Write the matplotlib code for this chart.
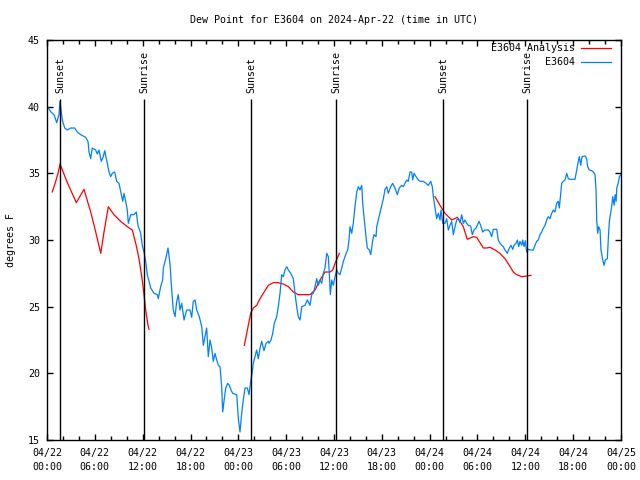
import matplotlib
matplotlib.use("Agg")
import matplotlib.pyplot as plt
from matplotlib.ticker import MultipleLocator

plt.rcParams['font.family'] = ['DejaVu Sans Mono']

title = "Dew Point for E3604 on 2024-Apr-22 (time in UTC)"
ylabel = "degrees F"

# hours since 2024-04-22 00:00 UTC
blue_hours = [0.04, 0.5, 0.88, 1.22, 1.5, 1.63, 1.92, 2.22, 2.55, 2.97, 3.47, 3.8, 4.23, 4.85, 5.14, 5.27,
              5.48, 5.68, 6.11, 6.31, 6.52, 6.81, 7.06, 7.24, 7.56, 7.78, 7.99, 8.19, 8.49, 8.74, 9.03,
              9.32, 9.5, 9.66, 9.87, 10.07, 10.2, 10.5, 10.91, 11.2, 11.41, 11.75, 11.95, 12.17, 12.38,
              12.58, 13.01, 13.42, 13.84, 13.96, 14.26, 14.51, 14.59, 14.89, 15.18, 15.43, 15.64, 15.84,
              16.06, 16.27, 16.47, 16.68, 16.9, 17.19, 17.52, 17.94, 18.15, 18.35, 18.57, 18.78, 19.1,
              19.41, 19.61, 19.82, 20.03, 20.23, 20.45, 20.66, 20.86, 21.07, 21.29, 21.49, 21.7, 21.91,
              22.04, 22.2, 22.42, 22.67, 22.87, 23.08, 23.29, 23.8, 24.0, 24.21, 24.42, 24.62, 24.84,
              25.13, 25.34, 25.55, 25.72, 25.88, 26.09, 26.3, 26.51, 26.72, 26.93, 27.22, 27.47, 27.76,
              27.85, 28.1, 28.31, 28.51, 28.81, 29.01, 29.23, 29.44, 29.64, 29.85, 30.07, 30.27, 30.57,
              30.9, 31.11, 31.32, 31.52, 31.74, 31.95, 32.36, 32.65, 32.99, 33.2, 33.4, 33.62, 33.83,
              34.03, 34.25, 34.46, 34.66, 34.87, 35.09, 35.29, 35.41, 35.54, 35.71, 35.91, 36.13, 36.34,
              36.54, 36.75, 36.97, 37.17, 37.38, 37.59, 37.72, 37.88, 38.01, 38.22, 38.42, 38.63, 38.85,
              39.05, 39.26, 39.48, 39.6, 39.76, 40.01, 40.18, 40.43, 40.61, 40.86, 41.02, 41.27, 41.36,
              41.56, 41.77, 41.99, 42.19, 42.4, 42.61, 42.81, 43.11, 43.36, 43.65, 43.94, 44.19, 44.49,
              44.69, 44.91, 45.12, 45.32, 45.53, 45.75, 45.87, 46.04, 46.29, 46.58, 46.79, 47.2, 47.54,
              47.83, 48.13, 48.33, 48.46, 48.67, 48.88, 49.08, 49.3, 49.42, 49.64, 49.92, 50.14, 50.34,
              50.55, 50.76, 50.97, 51.18, 51.39, 51.59, 51.81, 52.02, 52.22, 52.43, 52.64, 52.84, 53.14,
              53.35, 53.56, 53.81, 53.98, 54.19, 54.4, 54.65, 54.94, 55.36, 55.57, 55.78, 55.98, 56.41,
              56.61, 56.82, 57.04, 57.24, 57.45, 57.74, 57.99, 58.2, 58.42, 58.58, 58.83, 59.0, 59.17,
              59.33, 59.55, 59.67, 59.84, 60.0, 60.17, 60.37, 60.67, 61.0, 61.21, 61.42, 61.63, 61.84,
              62.05, 62.26, 62.47, 62.68, 62.88, 63.09, 63.31, 63.51, 63.72, 63.93, 64.13, 64.26, 64.44,
              64.56, 64.76, 64.98, 65.19, 65.39, 65.61, 66.23, 66.44, 66.64, 66.77, 66.95, 67.11, 67.52,
              67.7, 67.82, 68.02, 68.33, 68.53, 68.74, 68.87, 68.95, 69.08, 69.2, 69.37, 69.49, 69.71,
              69.87, 70.04, 70.29, 70.42, 70.54, 70.72, 70.85, 70.97, 71.14, 71.26, 71.39, 71.47, 71.64,
              71.8, 71.98]
blue_vals = [40.0, 39.6, 39.4, 38.8, 39.4, 40.4, 39.0, 38.4, 38.25, 38.4, 38.4, 38.1, 37.9, 37.7, 37.4, 36.6,
             36.1, 36.9, 36.75, 36.45, 36.75, 35.9, 36.25, 36.7, 35.75, 35.1, 34.75, 35.0, 35.1, 34.4, 34.25,
             33.4, 32.9, 33.5, 32.9, 32.25, 31.25, 31.9, 31.9, 32.1, 31.1, 30.5, 29.6, 29.1, 28.4,
             27.4, 26.4, 26.0, 25.9, 25.6, 26.5, 27.0, 27.9, 28.6, 29.4, 28.2, 26.25, 24.75,
             24.25, 25.4, 25.9, 24.75, 25.25, 24.0, 24.75, 24.75, 24.2, 25.4, 25.5, 24.75, 24.25,
             23.5, 22.1, 22.75, 23.4, 21.25, 22.5, 21.9, 20.9, 21.5, 21.0, 20.6, 20.5, 19.0,
             17.1, 17.9, 18.9, 19.25, 19.1, 18.75, 18.5, 18.4, 16.6, 15.6, 17.0, 18.0, 18.9,
             18.9, 18.4, 19.4, 20.0, 20.75, 21.25, 21.75, 21.1, 21.9, 22.4, 21.7, 22.25, 22.4,
             22.25, 22.5, 23.0, 23.75, 24.25, 25.0, 26.0, 27.4, 27.25, 27.75, 28.0, 27.75, 27.5,
             27.1, 26.0, 25.0, 24.25, 24.0, 25.0, 25.1, 25.5, 25.1, 25.9, 26.0, 26.5, 27.1,
             26.6, 27.0, 26.75, 27.5, 27.9, 29.0, 28.75, 27.5, 25.9, 27.0, 26.6, 27.25, 27.75,
             27.5, 27.4, 27.9, 28.4, 28.75, 29.1, 29.25, 30.0, 31.0, 30.5, 31.25, 32.5, 33.6,
             34.0, 33.75, 34.1, 32.75, 31.75, 30.25, 29.4, 29.25, 28.9, 30.0, 30.4, 30.25, 31.0,
             31.5, 32.0, 32.6, 33.1, 33.8, 34.0, 33.5, 34.0, 34.25, 33.9, 33.4, 33.9, 34.1,
             34.0, 34.25, 34.5, 34.4, 35.1, 35.1, 34.5, 35.0, 34.75, 34.5, 34.4, 34.4, 34.25,
             34.1, 34.4, 34.0, 33.25, 32.4, 31.6, 32.0, 31.5, 32.25, 31.25, 31.25, 31.6, 30.75,
             31.1, 31.4, 30.4, 31.0, 31.5, 31.6, 31.3, 31.9, 31.25, 31.5, 31.25, 31.1, 31.05,
             30.4, 30.75, 30.9, 31.1, 31.4, 31.1, 30.6, 30.75, 30.75, 30.6, 30.25, 30.8, 30.8,
             30.0, 29.75, 29.6, 29.5, 29.25, 29.0, 29.4, 29.6, 29.3, 29.6, 29.75, 30.0, 29.5,
             29.9, 29.6, 30.0, 29.5, 29.95, 29.1, 29.3, 29.25, 29.25, 29.6, 29.9, 30.0, 30.4,
             30.6, 30.9, 31.1, 31.5, 31.75, 31.6, 32.0, 32.25, 32.1, 32.75, 32.9, 32.4, 33.5,
             34.25, 34.4, 34.5, 35.0, 34.6, 34.55, 34.55, 35.25, 35.9, 36.25, 35.6, 36.25, 36.3,
             36.05, 35.5, 35.25, 35.2, 35.1, 34.9, 33.75, 31.5, 30.5, 31.0, 30.75, 29.25, 28.5,
             28.1, 28.5, 28.6, 30.25, 31.4, 32.1, 32.6, 33.25, 32.6, 33.4, 32.9, 33.9, 34.25,
             34.75, 34.9]

# analysis series, three separate segments
ana1_hours = [0.66, 1.09, 1.38, 1.63, 2.55, 3.68, 4.64, 5.48, 6.11, 6.74, 7.15, 7.69, 8.4, 9.24,
              10.07, 10.7, 11.13, 11.54, 11.95, 12.17, 12.38, 12.67, 12.8]
ana1_vals = [33.6, 34.4, 35.0, 35.7, 34.3, 32.8, 33.8, 32.1, 30.6, 29.0, 30.6, 32.5, 31.9, 31.4,
             31.0, 30.75, 29.75, 28.6, 27.0, 25.9, 24.75, 23.6, 23.3]
ana2_hours = [24.75, 25.55, 25.88, 26.3, 26.72, 27.13, 27.76, 28.39, 29.01, 29.64, 30.27, 30.9,
              31.52, 32.36, 32.99, 33.62, 34.25, 34.87, 35.5, 35.84, 36.13, 36.67]
ana2_vals = [22.1, 24.5, 24.9, 25.1, 25.6, 26.0, 26.6, 26.8, 26.8, 26.7, 26.5, 26.1,
             25.9, 25.9, 25.9, 26.25, 27.0, 27.6, 27.6, 27.75, 28.25, 29.0]
ana3_hours = [48.67, 49.3, 49.92, 50.34, 50.76, 51.47, 51.81, 52.22, 52.72, 53.47, 53.9, 54.73,
              55.15, 55.57, 56.2, 56.82, 57.45, 57.99, 58.49, 58.92, 59.55, 60.17, 60.71]
ana3_vals = [33.25, 32.6, 32.0, 31.75, 31.5, 31.7, 31.4, 31.0, 30.05, 30.25, 30.2, 29.4,
             29.4, 29.45, 29.25, 29.0, 28.6, 28.1, 27.6, 27.4, 27.25, 27.3, 27.35]

event_hours = [1.63, 12.17, 25.59, 36.25, 49.67, 60.21]
event_names = ["Sunset", "Sunrise", "Sunset", "Sunrise", "Sunset", "Sunrise"]

xtick_hours = [0, 6, 12, 18, 24, 30, 36, 42, 48, 54, 60, 66, 72]
xtick_labels = ["04/22\n00:00", "04/22\n06:00", "04/22\n12:00", "04/22\n18:00",
                "04/23\n00:00", "04/23\n06:00", "04/23\n12:00", "04/23\n18:00",
                "04/24\n00:00", "04/24\n06:00", "04/24\n12:00", "04/24\n18:00",
                "04/25\n00:00"]
ytick_vals = [15, 20, 25, 30, 35, 40, 45]

RED = "#ff0000"
BLUE = "#0080ff"
FS = 7.2
LW = 0.9

fig = plt.figure(figsize=(6.4, 4.8), dpi=100)
ax = fig.add_axes([47/640, 40/480, 574/640, 400/480])

ax.plot(ana1_hours, ana1_vals, color=RED, lw=LW, label="E3604 Analysis")
ax.plot(ana2_hours, ana2_vals, color=RED, lw=LW)
ax.plot(ana3_hours, ana3_vals, color=RED, lw=LW)
ax.plot(blue_hours, blue_vals, color=BLUE, lw=LW, label="E3604")

ax.vlines(event_hours, 15, 40.6, color="black", lw=1.0)
for h, name in zip(event_hours, event_names):
    ax.text(h, 41.0, name, rotation=90, ha="center", va="bottom", fontsize=FS)

ax.set_xlim(0, 72)
ax.set_ylim(15, 45)
ax.set_xticks(xtick_hours)
ax.set_xticklabels(xtick_labels, fontsize=FS)
for lbl in ax.get_xticklabels():
    lbl.set_linespacing(1.45)
ax.xaxis.set_minor_locator(MultipleLocator(2))
ax.set_yticks(ytick_vals)
ax.set_yticklabels([str(v) for v in ytick_vals], fontsize=FS)
ax.tick_params(axis="both", which="both", direction="in", top=True, right=True, color="black")
ax.tick_params(axis="both", which="major", length=4.5, width=1.0)
ax.tick_params(axis="x", which="minor", length=3, width=1.0)
ax.tick_params(axis="x", which="major", pad=6)
ax.tick_params(axis="y", which="major", pad=5)
for s in ax.spines.values():
    s.set_linewidth(1.0)

fig.text(334/640, 1 - 20/480, title, ha="center", va="center", fontsize=FS)
fig.text(11/640, 0.5, ylabel, rotation=90, ha="center", va="center", fontsize=FS)

leg = fig.legend(loc="upper right", bbox_to_anchor=(611/640, 1 - 43/480), frameon=False,
                 markerfirst=False, fontsize=FS, handlelength=3.0, handletextpad=0.6,
                 labelspacing=0.4, borderpad=0, borderaxespad=0)

fig.savefig("out.png", dpi=100)
